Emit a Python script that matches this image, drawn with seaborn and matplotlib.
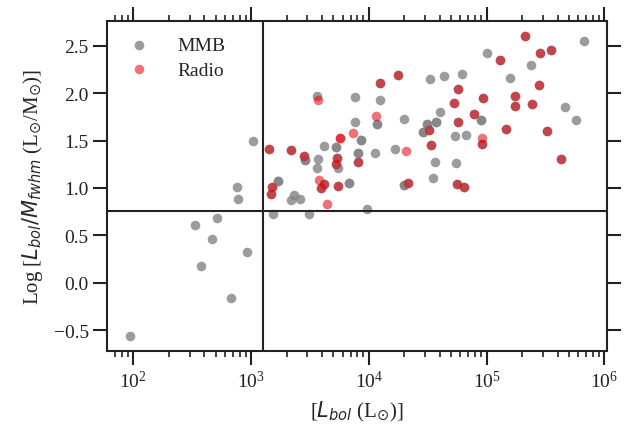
import numpy as np
import pandas as pd
import matplotlib
matplotlib.use("Agg")
import matplotlib.pyplot as plt
import seaborn as sns

# Bolometric luminosity (L_sun) and log(L_bol / M_fwhm) for the methanol-maser sample
mmb_lbol = [
    94, 336, 378, 466, 513, 675, 759, 773, 914, 1047,
    1538, 1687, 1687, 1517, 1489, 1422, 2198, 2838, 2871, 2871,
    2333, 2198, 2624, 3126, 3614, 3724, 3614, 4159, 5224, 5224,
    5395, 5224, 5470, 4159, 3926, 5508, 6745, 6745, 7674, 7674,
    8570, 8570, 8035, 8035, 8091, 9572, 11324, 11776, 11776, 12331,
    12503, 17539, 16749, 19815, 19815, 21577, 19953, 29107, 29107, 32509,
    31261, 31261, 33113, 33574, 34754, 36559, 37068, 37068, 40087, 43551,
    52966, 54200, 55081, 55847, 57677, 57677, 61518, 63973, 66834, 78163,
    89125, 89125, 92045, 92683, 100231, 129718, 145881, 157036, 174181, 174181,
    212814, 239883, 242661, 277971, 281838, 327341, 351560, 430527, 461318, 568853,
    669884,
]
mmb_ratio = [
    -0.56, 0.61, 0.18, 0.46, 0.68, -0.16, 1.01, 0.88, 0.32, 1.50,
    0.73, 1.07, 1.07, 1.01, 0.94, 1.41, 1.40, 1.34, 1.29, 1.29,
    0.93, 0.87, 0.88, 0.73, 1.97, 1.30, 1.21, 1.44, 1.43, 1.43,
    1.32, 1.25, 1.21, 1.04, 1.00, 1.02, 1.05, 1.05, 1.96, 1.69,
    1.51, 1.51, 1.37, 1.37, 1.27, 0.78, 1.37, 1.67, 1.67, 1.93,
    2.11, 2.19, 1.41, 1.03, 1.03, 1.05, 1.73, 1.59, 1.59, 1.61,
    1.67, 1.67, 2.15, 1.45, 1.10, 1.27, 1.69, 1.69, 1.80, 2.18,
    1.90, 1.55, 1.26, 1.04, 2.04, 1.69, 2.20, 1.01, 1.56, 1.78,
    1.72, 1.72, 1.46, 1.95, 2.42, 2.35, 1.62, 2.16, 1.97, 1.86,
    2.60, 2.30, 1.89, 2.08, 2.42, 1.60, 2.45, 1.31, 1.85, 1.72,
    2.55,
]

# Sources that also have a radio counterpart
radio_lbol = [
    1517, 1489, 1422, 2198, 2838, 3680, 5395, 5224, 4159, 3926,
    5508, 8091, 12503, 17539, 21577, 32509, 33574, 52966, 55847, 57677,
    57677, 63973, 78163, 92045, 92683, 129718, 145881, 174181, 174181, 212814,
    242661, 277971, 281838, 327341, 351560, 430527,
    3802, 4385, 7328, 11561, 20512, 91411, 5689, 5689,
]
radio_ratio = [
    1.01, 0.94, 1.41, 1.40, 1.34, 1.93, 1.32, 1.25, 1.04, 1.00,
    1.02, 1.27, 2.11, 2.19, 1.05, 1.61, 1.45, 1.90, 1.04, 2.04,
    1.69, 1.01, 1.78, 1.46, 1.95, 2.35, 1.62, 1.97, 1.86, 2.60,
    1.89, 2.08, 2.42, 1.60, 2.45, 1.31,
    1.08, 0.83, 1.58, 1.76, 1.39, 1.53, 1.53, 1.53,
]

# Reference cuts in luminosity and L/M
lbol_cut = 10 ** 3.1
ratio_cut = 0.76

df = pd.DataFrame({
    "lbol": mmb_lbol + radio_lbol,
    "ratio": mmb_ratio + radio_ratio,
    "sample": ["MMB"] * len(mmb_lbol) + ["Radio"] * len(radio_lbol),
})

sns.set_theme(style="ticks")
plt.rcParams["font.family"] = ["Liberation Serif", "DejaVu Serif"]
plt.rcParams["mathtext.fontset"] = "dejavusans"

fig = plt.figure(figsize=(6.32, 4.31), dpi=100)
ax = fig.add_axes([0.170, 0.183, 0.790, 0.766])

palette = {"MMB": "#848486", "Radio": "#e1000a"}
for name, a in (("MMB", 0.8), ("Radio", 0.55)):
    sns.scatterplot(
        data=df[df["sample"] == name], x="lbol", y="ratio",
        color=palette[name], alpha=a, s=48, linewidth=0,
        label=name, ax=ax,
    )

ax.set_xscale("log")
ax.set_xlim(10 ** 1.78, 10 ** 6.02)
ax.set_ylim(-0.72, 2.76)
ax.set_yticks([-0.5, 0.0, 0.5, 1.0, 1.5, 2.0, 2.5])

ax.axvline(lbol_cut, color="#222222", lw=1.5, zorder=1)
ax.axhline(ratio_cut, color="#222222", lw=1.5, zorder=1)

for sp in ax.spines.values():
    sp.set_visible(True)
    sp.set_linewidth(1.5)
    sp.set_color("#222222")

ax.tick_params(which="both", direction="out", top=True, right=True,
               colors="#222222", labelsize=14)
ax.tick_params(which="major", length=10, width=1.5)
ax.tick_params(which="minor", length=4.5, width=1.2)
ax.tick_params(axis="y", which="minor", left=False, right=False)

ax.set_xlabel(r"[$L_{bol}$ (L$_{\odot}$)]", fontsize=15, labelpad=6)
ax.set_ylabel(r"Log [$L_{bol}/M_{fwhm}$ (L$_{\odot}$/M$_{\odot}$)]", fontsize=15, labelpad=6)

handles, labels = ax.get_legend_handles_labels()
ax.legend(handles, labels, loc="upper left", frameon=False, fontsize=14,
          handletextpad=1.2, borderaxespad=0.4, borderpad=0.4,
          labelspacing=0.35, handlelength=1.6)

fig.savefig("out.png", dpi=100)
